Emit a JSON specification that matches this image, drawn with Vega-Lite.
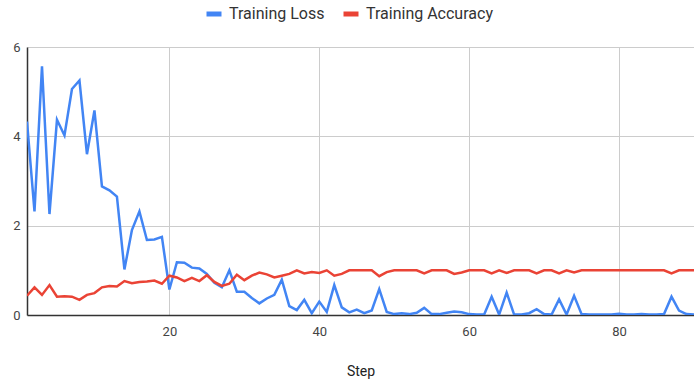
{
  "$schema": "https://vega.github.io/schema/vega-lite/v6.json",
  "width": 667,
  "height": 268,
  "autosize": {"type": "none"},
  "padding": {"left": 27, "top": 47, "right": 0, "bottom": 70},
  "background": "white",
  "config": {
    "view": {"stroke": null},
    "font": "Roboto",
    "axis": {"labelFont": "Roboto", "titleFont": "Roboto", "labelColor": "#444444", "titleColor": "#222222", "gridColor": "#cccccc", "gridWidth": 1, "domainColor": "#333333", "domainWidth": 1.5, "ticks": false}
  },
  "data": {"values": [
    {"step":1,"series":"Training Loss","value":4.33},{"step":2,"series":"Training Loss","value":2.32},{"step":3,"series":"Training Loss","value":5.57},{"step":4,"series":"Training Loss","value":2.26},{"step":5,"series":"Training Loss","value":4.37},{"step":6,"series":"Training Loss","value":4.02},{"step":7,"series":"Training Loss","value":5.06},{"step":8,"series":"Training Loss","value":5.25},{"step":9,"series":"Training Loss","value":3.6},{"step":10,"series":"Training Loss","value":4.58},
    {"step":11,"series":"Training Loss","value":2.88},{"step":12,"series":"Training Loss","value":2.79},{"step":13,"series":"Training Loss","value":2.65},{"step":14,"series":"Training Loss","value":1.02},{"step":15,"series":"Training Loss","value":1.9},{"step":16,"series":"Training Loss","value":2.32},{"step":17,"series":"Training Loss","value":1.68},{"step":18,"series":"Training Loss","value":1.69},{"step":19,"series":"Training Loss","value":1.75},{"step":20,"series":"Training Loss","value":0.57},
    {"step":21,"series":"Training Loss","value":1.18},{"step":22,"series":"Training Loss","value":1.17},{"step":23,"series":"Training Loss","value":1.06},{"step":24,"series":"Training Loss","value":1.04},{"step":25,"series":"Training Loss","value":0.92},{"step":26,"series":"Training Loss","value":0.72},{"step":27,"series":"Training Loss","value":0.62},{"step":28,"series":"Training Loss","value":1.0},{"step":29,"series":"Training Loss","value":0.52},{"step":30,"series":"Training Loss","value":0.52},
    {"step":31,"series":"Training Loss","value":0.38},{"step":32,"series":"Training Loss","value":0.26},{"step":33,"series":"Training Loss","value":0.37},{"step":34,"series":"Training Loss","value":0.45},{"step":35,"series":"Training Loss","value":0.79},{"step":36,"series":"Training Loss","value":0.2},{"step":37,"series":"Training Loss","value":0.11},{"step":38,"series":"Training Loss","value":0.34},{"step":39,"series":"Training Loss","value":0.04},{"step":40,"series":"Training Loss","value":0.3},
    {"step":41,"series":"Training Loss","value":0.07},{"step":42,"series":"Training Loss","value":0.67},{"step":43,"series":"Training Loss","value":0.17},{"step":44,"series":"Training Loss","value":0.06},{"step":45,"series":"Training Loss","value":0.12},{"step":46,"series":"Training Loss","value":0.04},{"step":47,"series":"Training Loss","value":0.1},{"step":48,"series":"Training Loss","value":0.58},{"step":49,"series":"Training Loss","value":0.07},{"step":50,"series":"Training Loss","value":0.02},
    {"step":51,"series":"Training Loss","value":0.04},{"step":52,"series":"Training Loss","value":0.02},{"step":53,"series":"Training Loss","value":0.05},{"step":54,"series":"Training Loss","value":0.16},{"step":55,"series":"Training Loss","value":0.02},{"step":56,"series":"Training Loss","value":0.02},{"step":57,"series":"Training Loss","value":0.05},{"step":58,"series":"Training Loss","value":0.08},{"step":59,"series":"Training Loss","value":0.06},{"step":60,"series":"Training Loss","value":0.02},
    {"step":61,"series":"Training Loss","value":0.01},{"step":62,"series":"Training Loss","value":0.01},{"step":63,"series":"Training Loss","value":0.41},{"step":64,"series":"Training Loss","value":0.01},{"step":65,"series":"Training Loss","value":0.5},{"step":66,"series":"Training Loss","value":0.01},{"step":67,"series":"Training Loss","value":0.01},{"step":68,"series":"Training Loss","value":0.04},{"step":69,"series":"Training Loss","value":0.13},{"step":70,"series":"Training Loss","value":0.02},
    {"step":71,"series":"Training Loss","value":0.01},{"step":72,"series":"Training Loss","value":0.35},{"step":73,"series":"Training Loss","value":0.01},{"step":74,"series":"Training Loss","value":0.43},{"step":75,"series":"Training Loss","value":0.02},{"step":76,"series":"Training Loss","value":0.01},{"step":77,"series":"Training Loss","value":0.01},{"step":78,"series":"Training Loss","value":0.01},{"step":79,"series":"Training Loss","value":0.01},{"step":80,"series":"Training Loss","value":0.03},
    {"step":81,"series":"Training Loss","value":0.01},{"step":82,"series":"Training Loss","value":0.01},{"step":83,"series":"Training Loss","value":0.02},{"step":84,"series":"Training Loss","value":0.01},{"step":85,"series":"Training Loss","value":0.01},{"step":86,"series":"Training Loss","value":0.02},{"step":87,"series":"Training Loss","value":0.41},{"step":88,"series":"Training Loss","value":0.1},{"step":89,"series":"Training Loss","value":0.02},{"step":90,"series":"Training Loss","value":0.01},
    {"step":1,"series":"Training Accuracy","value":0.43},{"step":2,"series":"Training Accuracy","value":0.62},{"step":3,"series":"Training Accuracy","value":0.45},{"step":4,"series":"Training Accuracy","value":0.67},{"step":5,"series":"Training Accuracy","value":0.41},{"step":6,"series":"Training Accuracy","value":0.42},{"step":7,"series":"Training Accuracy","value":0.41},{"step":8,"series":"Training Accuracy","value":0.34},{"step":9,"series":"Training Accuracy","value":0.45},{"step":10,"series":"Training Accuracy","value":0.49},
    {"step":11,"series":"Training Accuracy","value":0.62},{"step":12,"series":"Training Accuracy","value":0.65},{"step":13,"series":"Training Accuracy","value":0.64},{"step":14,"series":"Training Accuracy","value":0.76},{"step":15,"series":"Training Accuracy","value":0.71},{"step":16,"series":"Training Accuracy","value":0.74},{"step":17,"series":"Training Accuracy","value":0.75},{"step":18,"series":"Training Accuracy","value":0.77},{"step":19,"series":"Training Accuracy","value":0.7},{"step":20,"series":"Training Accuracy","value":0.88},
    {"step":21,"series":"Training Accuracy","value":0.84},{"step":22,"series":"Training Accuracy","value":0.76},{"step":23,"series":"Training Accuracy","value":0.83},{"step":24,"series":"Training Accuracy","value":0.76},{"step":25,"series":"Training Accuracy","value":0.89},{"step":26,"series":"Training Accuracy","value":0.74},{"step":27,"series":"Training Accuracy","value":0.65},{"step":28,"series":"Training Accuracy","value":0.7},{"step":29,"series":"Training Accuracy","value":0.9},{"step":30,"series":"Training Accuracy","value":0.78},
    {"step":31,"series":"Training Accuracy","value":0.88},{"step":32,"series":"Training Accuracy","value":0.95},{"step":33,"series":"Training Accuracy","value":0.91},{"step":34,"series":"Training Accuracy","value":0.84},{"step":35,"series":"Training Accuracy","value":0.88},{"step":36,"series":"Training Accuracy","value":0.92},{"step":37,"series":"Training Accuracy","value":1.0},{"step":38,"series":"Training Accuracy","value":0.93},{"step":39,"series":"Training Accuracy","value":0.96},{"step":40,"series":"Training Accuracy","value":0.94},
    {"step":41,"series":"Training Accuracy","value":1.0},{"step":42,"series":"Training Accuracy","value":0.88},{"step":43,"series":"Training Accuracy","value":0.92},{"step":44,"series":"Training Accuracy","value":1.0},{"step":45,"series":"Training Accuracy","value":1.0},{"step":46,"series":"Training Accuracy","value":1.0},{"step":47,"series":"Training Accuracy","value":1.0},{"step":48,"series":"Training Accuracy","value":0.87},{"step":49,"series":"Training Accuracy","value":0.96},{"step":50,"series":"Training Accuracy","value":1.0},
    {"step":51,"series":"Training Accuracy","value":1.0},{"step":52,"series":"Training Accuracy","value":1.0},{"step":53,"series":"Training Accuracy","value":1.0},{"step":54,"series":"Training Accuracy","value":0.93},{"step":55,"series":"Training Accuracy","value":1.0},{"step":56,"series":"Training Accuracy","value":1.0},{"step":57,"series":"Training Accuracy","value":1.0},{"step":58,"series":"Training Accuracy","value":0.92},{"step":59,"series":"Training Accuracy","value":0.95},{"step":60,"series":"Training Accuracy","value":1.0},
    {"step":61,"series":"Training Accuracy","value":1.0},{"step":62,"series":"Training Accuracy","value":1.0},{"step":63,"series":"Training Accuracy","value":0.93},{"step":64,"series":"Training Accuracy","value":1.0},{"step":65,"series":"Training Accuracy","value":0.94},{"step":66,"series":"Training Accuracy","value":1.0},{"step":67,"series":"Training Accuracy","value":1.0},{"step":68,"series":"Training Accuracy","value":1.0},{"step":69,"series":"Training Accuracy","value":0.93},{"step":70,"series":"Training Accuracy","value":1.0},
    {"step":71,"series":"Training Accuracy","value":1.0},{"step":72,"series":"Training Accuracy","value":0.93},{"step":73,"series":"Training Accuracy","value":1.0},{"step":74,"series":"Training Accuracy","value":0.95},{"step":75,"series":"Training Accuracy","value":1.0},{"step":76,"series":"Training Accuracy","value":1.0},{"step":77,"series":"Training Accuracy","value":1.0},{"step":78,"series":"Training Accuracy","value":1.0},{"step":79,"series":"Training Accuracy","value":1.0},{"step":80,"series":"Training Accuracy","value":1.0},
    {"step":81,"series":"Training Accuracy","value":1.0},{"step":82,"series":"Training Accuracy","value":1.0},{"step":83,"series":"Training Accuracy","value":1.0},{"step":84,"series":"Training Accuracy","value":1.0},{"step":85,"series":"Training Accuracy","value":1.0},{"step":86,"series":"Training Accuracy","value":1.0},{"step":87,"series":"Training Accuracy","value":0.93},{"step":88,"series":"Training Accuracy","value":1.0},{"step":89,"series":"Training Accuracy","value":1.0},{"step":90,"series":"Training Accuracy","value":1.0}
  ]},
  "mark": {"type": "line", "strokeWidth": 2.5, "clip": true},
  "encoding": {
    "x": {
      "field": "step", "type": "quantitative",
      "scale": {"domain": [1, 90], "nice": false, "zero": false},
      "axis": {"values": [20, 40, 60, 80], "grid": true, "title": "Step", "labelFontSize": 13, "labelPadding": 10, "titleFontSize": 14, "titleFontWeight": "normal", "titlePadding": 26, "domain": true}
    },
    "y": {
      "field": "value", "type": "quantitative",
      "scale": {"domain": [0, 6], "nice": false},
      "axis": {"values": [0, 2, 4, 6], "grid": true, "title": null, "labelFontSize": 13, "labelPadding": 7, "domain": true}
    },
    "color": {
      "field": "series", "type": "nominal",
      "scale": {"domain": ["Training Loss", "Training Accuracy"], "range": ["#4285F4", "#EA4335"]},
      "legend": {"title": null, "orient": "none", "direction": "horizontal", "legendX": 177, "legendY": -43, "symbolType": "stroke", "symbolSize": 225, "symbolStrokeWidth": 5, "symbolOpacity": 1, "labelFontSize": 16, "labelColor": "#333333", "labelFont": "Roboto", "columnPadding": 8, "labelOffset": 5}
    },
    "order": {"field": "step", "type": "quantitative"}
  }
}
